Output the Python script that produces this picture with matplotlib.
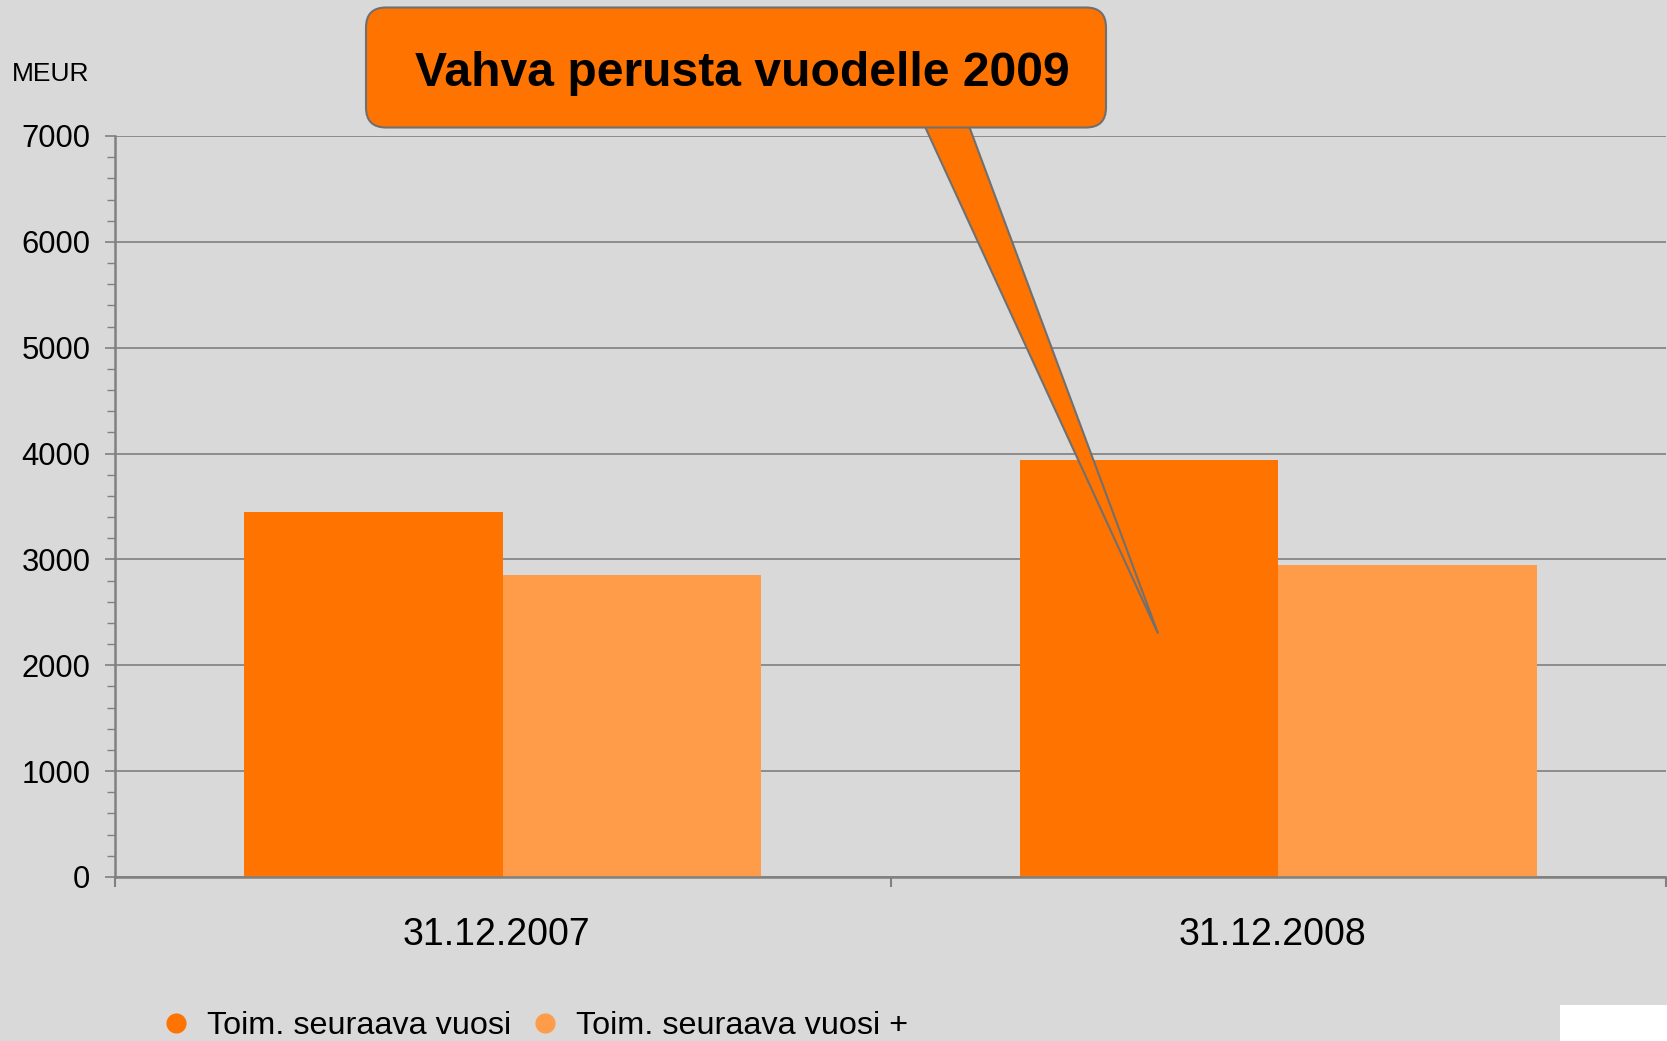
import matplotlib
matplotlib.use("Agg")
import matplotlib.pyplot as plt
from matplotlib.patches import FancyBboxPatch, Polygon, Rectangle
from matplotlib.lines import Line2D
from matplotlib.ticker import MultipleLocator
from matplotlib.transforms import Affine2D, ScaledTranslation
import numpy as np

# ---- data ----
categories = ["31.12.2007", "31.12.2008"]
series_names = ["Toim. seuraava vuosi", "Toim. seuraava vuosi +"]
next_year = [3450, 3940]
year_plus = [2850, 2950]
y_ticks = [0, 1000, 2000, 3000, 4000, 5000, 6000, 7000]
unit_label = "MEUR"
callout_text = "Vahva perusta vuodelle 2009"
callout_tip = (0.845, 2300)  # data coords of the pointer tip

# ---- style ----
W, H = 1667, 1041
BG = "#D9D9D9"
DARK = "#FF7300"
LIGHT = "#FF9C4A"
GRAY = "#808080"

plt.rcParams['font.family'] = ['Liberation Sans', 'DejaVu Sans']

fig = plt.figure(figsize=(W / 100, H / 100), dpi=100, facecolor=BG)
ax = fig.add_axes([115 / W, 164 / H, (1666 - 115) / W, (877 - 136) / H])
ax.set_facecolor(BG)

x = np.arange(len(categories))
bw = 1 / 3
ax.bar(x - bw / 2, next_year, bw, color=DARK, zorder=2, label=series_names[0])
ax.bar(x + bw / 2, year_plus, bw, color=LIGHT, zorder=2, label=series_names[1])

ax.set_xlim(-0.5, len(categories) - 0.5)
ax.set_ylim(0, 7000)
ax.set_yticks(y_ticks)
ax.set_yticklabels([str(v) for v in y_ticks])
ax.yaxis.set_minor_locator(MultipleLocator(200))
ax.set_axisbelow(True)
ax.grid(axis='y', which='major', color=GRAY, lw=1.2)

for s in ['top', 'right']:
    ax.spines[s].set_visible(False)
for s in ['left', 'bottom']:
    ax.spines[s].set_color(GRAY)
    ax.spines[s].set_linewidth(1.8)

ax.tick_params(axis='y', which='major', length=7.2, width=1.2, color=GRAY,
               labelsize=22.3, pad=10.5, labelcolor='black')
ax.tick_params(axis='y', which='minor', length=5.8, width=1.0, color=GRAY)

ax.set_xticks(np.arange(-0.5, len(categories), 1.0))
ax.set_xticklabels([])
ax.set_xticks(x, minor=True)
ax.set_xticklabels(categories, minor=True)
ax.tick_params(axis='x', which='major', length=7.2, width=1.5, color=GRAY)
ax.tick_params(axis='x', which='minor', length=0, labelsize=27, pad=29)
for lbl in ax.get_xticklabels(minor=True):
    lbl.set_transform(lbl.get_transform() +
                      ScaledTranslation(-6 / 100, 0, fig.dpi_scale_trans))

fig.text(12 / W, 1 - 74 / H, unit_label, fontsize=19, va='center', ha='left')

# legend
handles = [Line2D([], [], marker='o', ls='', ms=14.5, color=DARK, mec='none'),
           Line2D([], [], marker='o', ls='', ms=14.5, color=LIGHT, mec='none')]
fig.legend(handles, series_names, loc='center left',
           bbox_to_anchor=(165 / W, 1 - 1026 / H), ncol=2, frameon=False,
           fontsize=23.3, handlelength=0.7, handletextpad=0.6,
           columnspacing=0.69, borderpad=0, borderaxespad=0)

# callout (pixel coordinates)
pix = Affine2D().scale(1 / W, 1 / H) + fig.transFigure
tip = ax.transData.transform(callout_tip)
pointer = Polygon([(921, H - 118), (966, H - 118), (tip[0], tip[1])],
                  closed=True, transform=pix, fc=DARK, ec='#707070', lw=1.5,
                  zorder=4)
fig.add_artist(pointer)
box = FancyBboxPatch((366, H - 127.5), 740, 120,
                     boxstyle='round,pad=0,rounding_size=20', transform=pix,
                     fc=DARK, ec='#707070', lw=1.5, zorder=5)
fig.add_artist(box)
fig.text(742 / W, 1 - 74 / H, callout_text, fontsize=34.6, weight='bold',
         ha='center', va='center', zorder=6)

fig.add_artist(Rectangle((1560, 0), W - 1560, H - 1005, transform=pix,
                         fc='white', ec='none', zorder=10))

fig.savefig('out.png', dpi=100, facecolor=BG)
